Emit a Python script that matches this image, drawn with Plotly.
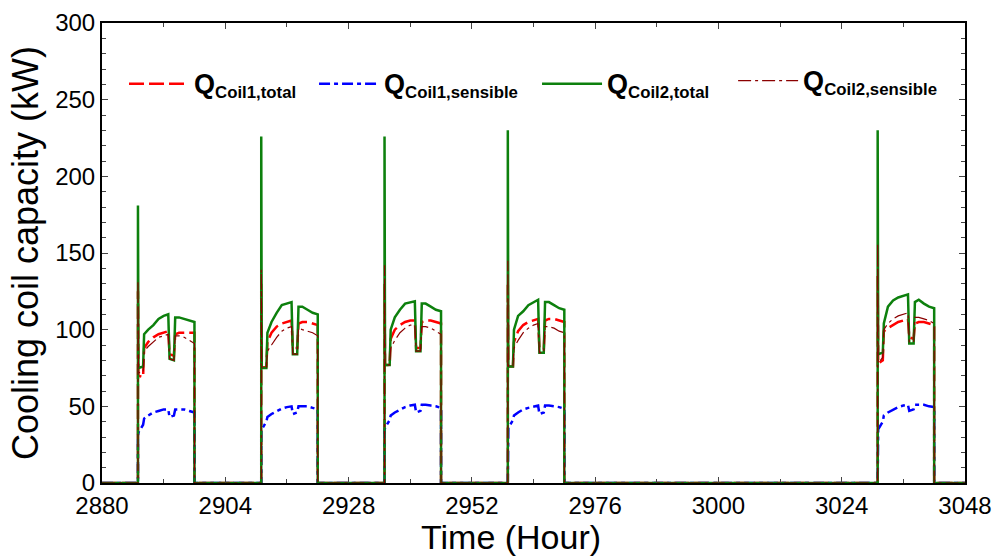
import plotly.graph_objects as go

# Day start offsets (hour of year at midnight) for the occupied days shown
day_bases = [2880, 2904, 2928, 2952, 3024]
# Hour-of-day sample points used for each occupied day
hours = [7.0, 7.0, 7.1, 8.0, 8.2, 9.0, 10.0, 11.0, 12.0, 12.9, 13.15, 14.0, 14.25, 15.0, 16.0, 17.0, 18.0, 18.0]

coil1_total = [
    [0, 125, 70, 69, 88, 92, 95, 97, 98, 99, 84, 83, 97, 98, 98, 98, 98, 0],
    [0, 130, 75, 76, 92, 98, 102, 104, 105, 106, 88, 88, 104, 105, 105, 104, 103, 0],
    [0, 130, 77, 77, 94, 100, 103, 105, 106, 106, 88, 88, 105, 106, 106, 105, 104, 0],
    [0, 130, 76, 76, 92, 99, 103, 105, 106, 107, 88, 87, 106, 107, 107, 106, 105, 0],
    [0, 135, 78, 80, 99, 101, 103, 105, 106, 107, 95, 94, 104, 105, 105, 104, 103, 0],
]
coil1_sensible = [
    [0, 31, 33, 38, 42, 44, 46, 47, 48, 48, 43, 44, 48, 48, 48, 47, 46, 0],
    [0, 33, 35, 40, 43, 45, 47, 48.5, 49.5, 50, 45, 46, 50, 50, 50, 49, 48, 0],
    [0, 34, 36, 41, 44, 46, 48, 49.5, 50.5, 51, 46, 47, 51, 51, 50.5, 50, 49, 0],
    [0, 34, 36, 41, 44, 46, 48, 49, 50, 50.5, 45, 46, 50.5, 50.5, 50, 49.5, 48.5, 0],
    [0, 33, 35, 40, 44, 46, 48, 49.5, 50.5, 51, 47, 48, 51, 51, 51, 50, 49.5, 0],
]
coil2_total = [
    [0, 181, 75, 76, 97, 100, 103, 107, 109, 110, 81, 80, 108, 108, 107, 106, 105, 0],
    [0, 226, 75, 75, 98, 105, 111, 116, 117, 118, 84, 84, 115, 115, 113, 111, 110, 0],
    [0, 226, 77, 77, 100, 108, 113, 117, 118, 118.5, 86, 86, 117, 117, 115, 113, 112, 0],
    [0, 230, 76, 76, 100, 109, 112, 116, 118, 119.5, 85, 85, 118, 118, 116, 114, 113, 0],
    [0, 230, 84, 85, 104, 115, 119, 121, 122, 123, 91, 91, 118, 119.5, 117, 115, 114, 0],
]
coil2_sensible = [
    [0, 132, 72, 72, 86, 89, 92, 95, 96, 97, 81, 80, 96, 96, 95, 93, 91, 0],
    [0, 139, 75, 75, 86, 90, 95, 99, 101, 102, 84, 84, 101, 100, 99, 98, 96, 0],
    [0, 142, 77, 77, 88, 93, 98, 101, 103, 103, 86, 86, 102, 102, 101, 99, 97, 0],
    [0, 145, 76, 76, 88, 93, 98, 101, 103, 104, 85, 85, 102, 102, 101, 99, 98, 0],
    [0, 156, 78, 82, 100, 104, 107, 109, 110, 111, 92, 92, 108, 108, 107, 106, 104, 0],
]

x_start, x_end = 2880, 3048
x_ticks = [2880, 2904, 2928, 2952, 2976, 3000, 3024, 3048]
y_ticks = [0, 50, 100, 150, 200, 250, 300]
x_title = "Time (Hour)"
y_title = "Cooling coil capacity (kW)"


def build(series):
    xs, ys = [x_start], [0]
    for base, vals in zip(day_bases, series):
        xs += [base + h for h in hours]
        ys += vals
    xs.append(x_end)
    ys.append(0)
    return xs, ys


Q = '<span style="font-size:27px">Q</span>'
fig = go.Figure()
specs = [
    (Q + "<sub>Coil1,total</sub>", coil1_total, "#ff0000", 2.5, "15px,5px", "legend"),
    (Q + "<sub>Coil1,sensible</sub>", coil1_sensible, "#0000ff", 2.5, "11px,4px,4px,4px", "legend2"),
    (Q + "<sub>Coil2,total</sub>", coil2_total, "#0d800d", 2.5, "solid", "legend3"),
    (Q + "<sub>Coil2,sensible</sub>", coil2_sensible, "#8b0000", 1.2, "13px,4px,3px,4px", "legend4"),
]
for name, data, color, w, dash, lg in specs:
    xs, ys = build(data)
    fig.add_trace(go.Scatter(x=xs, y=ys, mode="lines", name="<b>" + name + "</b>",
                             line=dict(color=color, width=w, dash=dash),
                             legend=lg, showlegend=True))

leg_common = dict(bgcolor="rgba(0,0,0,0)", font=dict(family="Liberation Sans, Arial", size=24, color="black"),
                  itemwidth=60, yanchor="middle", xanchor="left", tracegroupgap=0, visible=True)
fig.update_layout(
    width=995, height=556,
    margin=dict(l=102, r=30, t=23, b=73),
    paper_bgcolor="white", plot_bgcolor="white",
    font=dict(family="Liberation Sans, Arial", color="black"),
    showlegend=True,
    legend=dict(x=0.0255, y=0.867, **leg_common),
    legend2=dict(x=0.2457, y=0.867, **leg_common),
    legend3=dict(x=0.5041, y=0.867, **leg_common),
    legend4=dict(x=0.7313, y=0.874, **leg_common),
    xaxis=dict(range=[x_start, x_end], tickvals=x_ticks, ticks="inside", ticklen=6,
               minor=dict(dtick=12, ticks="inside", ticklen=4, tick0=2880),
               showline=True, linecolor="black", linewidth=2, mirror="allticks",
               showgrid=False, zeroline=False, tickfont=dict(size=24), automargin=False),
    yaxis=dict(range=[0, 300], tickvals=y_ticks, ticks="inside", ticklen=6,
               minor=dict(dtick=10, ticks="inside", ticklen=4),
               showline=True, linecolor="black", linewidth=2, mirror="allticks",
               showgrid=False, zeroline=False, tickfont=dict(size=24), automargin=False,
               title=dict(text=y_title, font=dict(size=36), standoff=6)),
    annotations=[dict(text=x_title, xref="paper", yref="paper", x=0.474, y=-0.1587,
                      xanchor="center", yanchor="bottom", showarrow=False, yshift=-2,
                      font=dict(size=34, family="Liberation Sans, Arial", color="black"))],
)
fig.write_html("out.html")
